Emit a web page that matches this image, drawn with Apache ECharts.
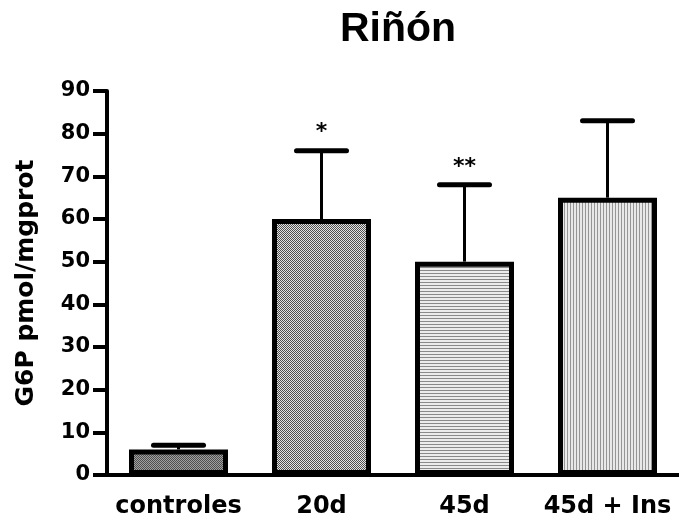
<!DOCTYPE html>
<html>
<head>
<meta charset="utf-8">
<script src="https://cdn.jsdelivr.net/npm/echarts@6/dist/echarts.min.js"></script>
<style>
  html, body { margin: 0; padding: 0; background: #fff; }
  #chart { width: 679px; height: 520px; }
</style>
</head>
<body>
<div id="chart"></div>
<script>
// Kidney G6P levels per group (mean and upper SEM)
const categories = ['controles', '20d', '45d', '45d + Ins'];
const means = [6, 60, 50, 65];
const errors = [1, 16, 18, 18];
const significance = ['', '*', '**', ''];
const yTicks = [0, 10, 20, 30, 40, 50, 60, 70, 80, 90];

// Small tiled fills for each bar
function makePattern(kind) {
  const c = document.createElement('canvas');
  const ctx = c.getContext('2d');
  if (kind === 'dots') {
    c.width = 2; c.height = 2;
    ctx.fillStyle = '#a0a0a0'; ctx.fillRect(0, 0, 2, 2);
    ctx.fillStyle = '#505050'; ctx.fillRect(0, 0, 1, 1); ctx.fillRect(1, 1, 1, 1);
  } else if (kind === 'checker') {
    c.width = 2; c.height = 2;
    ctx.fillStyle = '#e6e6e6'; ctx.fillRect(0, 0, 2, 2);
    ctx.fillStyle = '#505050'; ctx.fillRect(0, 0, 1, 1); ctx.fillRect(1, 1, 1, 1);
  } else if (kind === 'hlines') {
    c.width = 3; c.height = 3;
    ctx.fillStyle = '#ececec'; ctx.fillRect(0, 0, 3, 3);
    ctx.fillStyle = '#8a8a8a'; ctx.fillRect(0, 0, 3, 1);
  } else {
    c.width = 3; c.height = 3;
    ctx.fillStyle = '#e8e8e8'; ctx.fillRect(0, 0, 3, 3);
    ctx.fillStyle = '#959595'; ctx.fillRect(0, 0, 1, 3);
  }
  return { image: c, repeat: 'repeat' };
}
const fills = ['dots', 'checker', 'hlines', 'vlines'].map(makePattern);

const FONT = 'DejaVu Sans';
const chart = echarts.init(document.getElementById('chart'), null, { renderer: 'canvas' });

chart.setOption({
  animation: false,
  backgroundColor: '#ffffff',
  title: {
    text: 'Riñón',
    left: 393, top: 4,
    textAlign: 'center',
    textStyle: { fontFamily: 'Liberation Sans', fontWeight: 'bold', fontSize: 41, color: '#000' }
  },
  grid: { left: 107, top: 91, width: 576, height: 384, containLabel: false },
  xAxis: {
    type: 'category',
    data: categories,
    axisLine: { lineStyle: { color: '#000', width: 4 } },
    axisTick: { alignWithLabel: true, length: 13, lineStyle: { color: '#000', width: 4 } },
    axisLabel: {
      interval: 0, hideOverlap: false,
      color: '#000', fontFamily: FONT, fontWeight: 'bold', fontSize: 24, margin: 20
    },
    splitLine: { show: false }
  },
  yAxis: {
    type: 'value',
    min: 0, max: 90, interval: 10,
    name: 'G6P pmol/mgprot',
    nameLocation: 'middle',
    nameRotate: 90,
    nameGap: 68,
    nameTextStyle: { color: '#000', fontFamily: FONT, fontWeight: 'bold', fontSize: 25 },
    axisLine: { show: true, lineStyle: { color: '#000', width: 4 } },
    axisTick: { show: true, length: 14, lineStyle: { color: '#000', width: 4 } },
    axisLabel: {
      color: '#000', fontFamily: FONT, fontWeight: 'bold', fontSize: 21, margin: 17,
      formatter: v => (yTicks.includes(v) ? String(v) : '')
    },
    splitLine: { show: false }
  },
  series: [
    {
      type: 'bar',
      barWidth: 99,
      data: means.map((v, i) => ({
        value: v,
        itemStyle: { color: fills[i], borderColor: '#000', borderWidth: 5 }
      })),
      z: 2
    },
    {
      type: 'custom',
      z: 3,
      data: means.map((v, i) => [i, v, v + errors[i]]),
      renderItem: function (params, api) {
        const x = api.value(0);
        const base = api.coord([x, api.value(1)]);
        const top = api.coord([x, api.value(2)]);
        const half = 25;
        return {
          type: 'group',
          children: [
            { type: 'line', shape: { x1: base[0], y1: base[1], x2: top[0], y2: top[1] },
              style: { stroke: '#000', lineWidth: 3 } },
            { type: 'line', shape: { x1: top[0] - half, y1: top[1], x2: top[0] + half, y2: top[1] },
              style: { stroke: '#000', lineWidth: 5, lineCap: 'round' } }
          ]
        };
      }
    },
    {
      type: 'custom',
      z: 4,
      data: means.map((v, i) => [i, v + errors[i], significance[i]]),
      renderItem: function (params, api) {
        const p = api.coord([api.value(0), api.value(1)]);
        return {
          type: 'text',
          x: p[0], y: p[1] - 7,
          style: {
            text: significance[params.dataIndex],
            fontFamily: FONT, fontWeight: 'bold', fontSize: 22, fill: '#000',
            align: 'center', verticalAlign: 'bottom'
          }
        };
      }
    }
  ]
});
</script>
</body>
</html>
